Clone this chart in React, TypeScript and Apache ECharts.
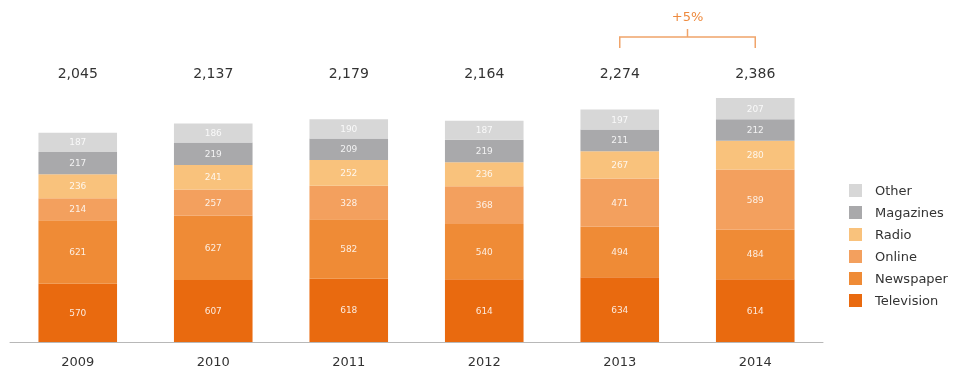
import React, { useEffect, useRef } from "react";
import * as echarts from "echarts";

const years = ["2009", "2010", "2011", "2012", "2013", "2014"];
const television = [570, 607, 618, 614, 634, 614];
const newspaper = [621, 627, 582, 540, 494, 484];
const online = [214, 257, 328, 368, 471, 589];
const radio = [236, 241, 252, 236, 267, 280];
const magazines = [217, 219, 209, 219, 211, 212];
const other = [187, 186, 190, 187, 197, 207];
const seriesNames = ["Television", "Newspaper", "Online", "Radio", "Magazines", "Other"];
const legendOrder = ["Other", "Magazines", "Radio", "Online", "Newspaper", "Television"];
const seriesColors = ["#E96A0F", "#EF8B36", "#F3A05E", "#F9C27C", "#A9A9AB", "#D7D7D7"];
const growthFrom = "2013";
const growthTo = "2014";

export default function App() {
  const ref = useRef<HTMLDivElement>(null);
  useEffect(() => {
    if (!ref.current) return;
    const chart = echarts.init(ref.current, undefined, { renderer: "svg" });
    const allSeries = [television, newspaper, online, radio, magazines, other];
    const totals = years.map((_, i) => allSeries.reduce((s, a) => s + a[i], 0));
    const font = "DejaVu Sans";
    chart.setOption({
      animation: false,
      textStyle: { fontFamily: font },
      grid: { left: 10, right: 149, top: 98, bottom: 34 },
      legend: {
        data: legendOrder,
        orient: "vertical",
        left: 844,
        top: 179,
        itemWidth: 13,
        itemHeight: 13,
        itemGap: 9,
        icon: "rect",
        textStyle: { fontFamily: font, fontSize: 13, color: "#333", padding: [0, 0, 0, 8] },
      },
      xAxis: [
        {
          type: "category",
          data: years,
          axisLine: { lineStyle: { color: "#B8B8B8", width: 1 } },
          axisTick: { show: false },
          axisLabel: { fontFamily: font, fontSize: 13, color: "#333", margin: 13 },
        },
        {
          type: "category",
          data: years,
          position: "top",
          axisLine: { show: false },
          axisTick: { show: false },
          axisLabel: {
            fontFamily: font,
            fontSize: 14,
            color: "#333",
            margin: 18,
            formatter: (_v: string, i: number) => totals[i].toLocaleString("en-US"),
          },
        },
      ],
      yAxis: { type: "value", min: 0, max: Math.max(...totals), show: false },
      series: allSeries.map((d, k) => ({
        name: seriesNames[k],
        type: "bar",
        stack: "total",
        data: d,
        barCategoryGap: "42%",
        itemStyle: { color: seriesColors[k] },
        label: {
          show: true,
          position: "inside",
          color: "rgba(255,255,255,0.85)",
          fontSize: 9,
          fontFamily: font,
        },
      })),
    });
    const xa = chart.convertToPixel({ xAxisIndex: 0 }, growthFrom) as number;
    const xb = chart.convertToPixel({ xAxisIndex: 0 }, growthTo) as number;
    const ia = years.indexOf(growthFrom);
    const ib = years.indexOf(growthTo);
    const pct = Math.round((totals[ib] / totals[ia] - 1) * 100);
    const mid = (xa + xb) / 2;
    const oc = "#F0A46A";
    chart.setOption({
      graphic: [
        { type: "polyline", shape: { points: [[xa, 48], [xa, 37], [xb, 37], [xb, 48]] }, style: { stroke: oc, lineWidth: 1.5, fill: "none" } },
        { type: "line", shape: { x1: mid, y1: 37, x2: mid, y2: 29 }, style: { stroke: oc, lineWidth: 1.5 } },
        {
          type: "text",
          x: mid,
          y: 16,
          style: { text: "+" + pct + "%", fill: "#EE8A3E", font: "13px DejaVu Sans", align: "center", verticalAlign: "middle" },
        },
      ],
    });
    return () => chart.dispose();
  }, []);
  return <div ref={ref} style={{ position: "fixed", left: 0, top: 0, width: 972, height: 376 }} />;
}
